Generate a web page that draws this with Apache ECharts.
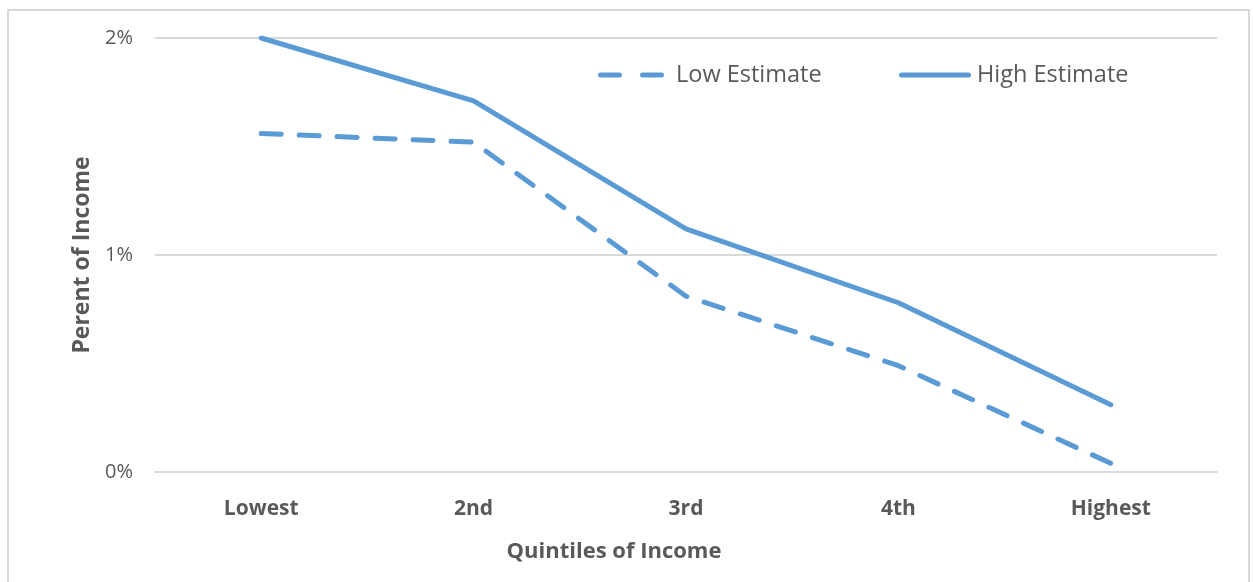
<!DOCTYPE html>
<html>
<head>
<meta charset="utf-8">
<script src="https://cdn.jsdelivr.net/npm/echarts@6/dist/echarts.min.js"></script>
<style>
  html, body { margin: 0; padding: 0; background: #fff; }
  #frame { position: absolute; left: 7px; top: 9px; width: 1243px; height: 580px; border: 2px solid #d9d9d9; box-sizing: border-box; }
  #chart { width: 1253px; height: 582px; position: absolute; left: 0; top: 0; }
</style>
</head>
<body>
<div id="frame"></div>
<div id="chart"></div>
<script>
const categories = ['Lowest', '2nd', '3rd', '4th', 'Highest'];
const lowEstimate = [1.56, 1.52, 0.81, 0.49, 0.04];
const highEstimate = [2.0, 1.71, 1.12, 0.78, 0.31];
const yTicks = [0, 1, 2];

const font = '"Open Sans", sans-serif';
const blue = '#5b9bd5';
const grey = '#595959';

// legend glyphs: two rounded dashes, and one long rounded bar
const dashIcon = 'path://M2.5,0H21.5A2.5,2.5 0 0 1 21.5,5H2.5A2.5,2.5 0 0 1 2.5,0Z M44.5,0H63.5A2.5,2.5 0 0 1 63.5,5H44.5A2.5,2.5 0 0 1 44.5,0Z';
const solidIcon = 'path://M2.5,0H69.5A2.5,2.5 0 0 1 69.5,5H2.5A2.5,2.5 0 0 1 2.5,0Z';

const chart = echarts.init(document.getElementById('chart'));
chart.setOption({
  animation: false,
  grid: { left: 155, right: 36, top: 38, bottom: 110 },
  legend: [
    {
      left: 593, top: 58, itemWidth: 66, itemHeight: 5,
      textStyle: { fontFamily: font, fontSize: 23.5, color: grey, padding: [0, 0, 0, 7] },
      data: [{ name: 'Low Estimate', icon: dashIcon }]
    },
    {
      left: 894, top: 58, itemWidth: 72, itemHeight: 5,
      textStyle: { fontFamily: font, fontSize: 23.5, color: grey, padding: [0, 0, 0, 1] },
      data: [{ name: 'High Estimate', icon: solidIcon }]
    }
  ],
  graphic: [
    {
      type: 'text', x: 614, y: 552,
      style: {
        text: 'Quintiles of Income', fontFamily: font, fontSize: 22, fontWeight: 'bold',
        fill: grey, align: 'center', verticalAlign: 'middle'
      }
    }
  ],
  xAxis: {
    type: 'category',
    data: categories,
    boundaryGap: true,
    axisLine: { show: true, lineStyle: { color: '#d9d9d9', width: 2 } },
    axisTick: { show: false },
    axisLabel: { fontFamily: font, fontSize: 21, fontWeight: 'bold', color: grey, margin: 27 }
  },
  yAxis: {
    type: 'value',
    min: yTicks[0], max: yTicks[yTicks.length - 1], interval: 1,
    axisLine: { show: false },
    axisTick: { show: false },
    splitLine: { lineStyle: { color: '#d9d9d9', width: 2 } },
    axisLabel: { fontFamily: font, fontSize: 20, color: grey, margin: 22, formatter: v => v + '%' },
    name: 'Perent of Income',
    nameLocation: 'middle',
    nameGap: 61,
    nameTextStyle: { fontFamily: font, fontSize: 23, fontWeight: 'bold', color: grey }
  },
  series: [
    {
      name: 'Low Estimate', type: 'line', data: lowEstimate,
      symbol: 'none', color: blue,
      lineStyle: { width: 5, type: [20, 18], cap: 'round', color: blue }
    },
    {
      name: 'High Estimate', type: 'line', data: highEstimate,
      symbol: 'none', color: blue,
      lineStyle: { width: 5, cap: 'round', color: blue }
    }
  ]
});
</script>
</body>
</html>
